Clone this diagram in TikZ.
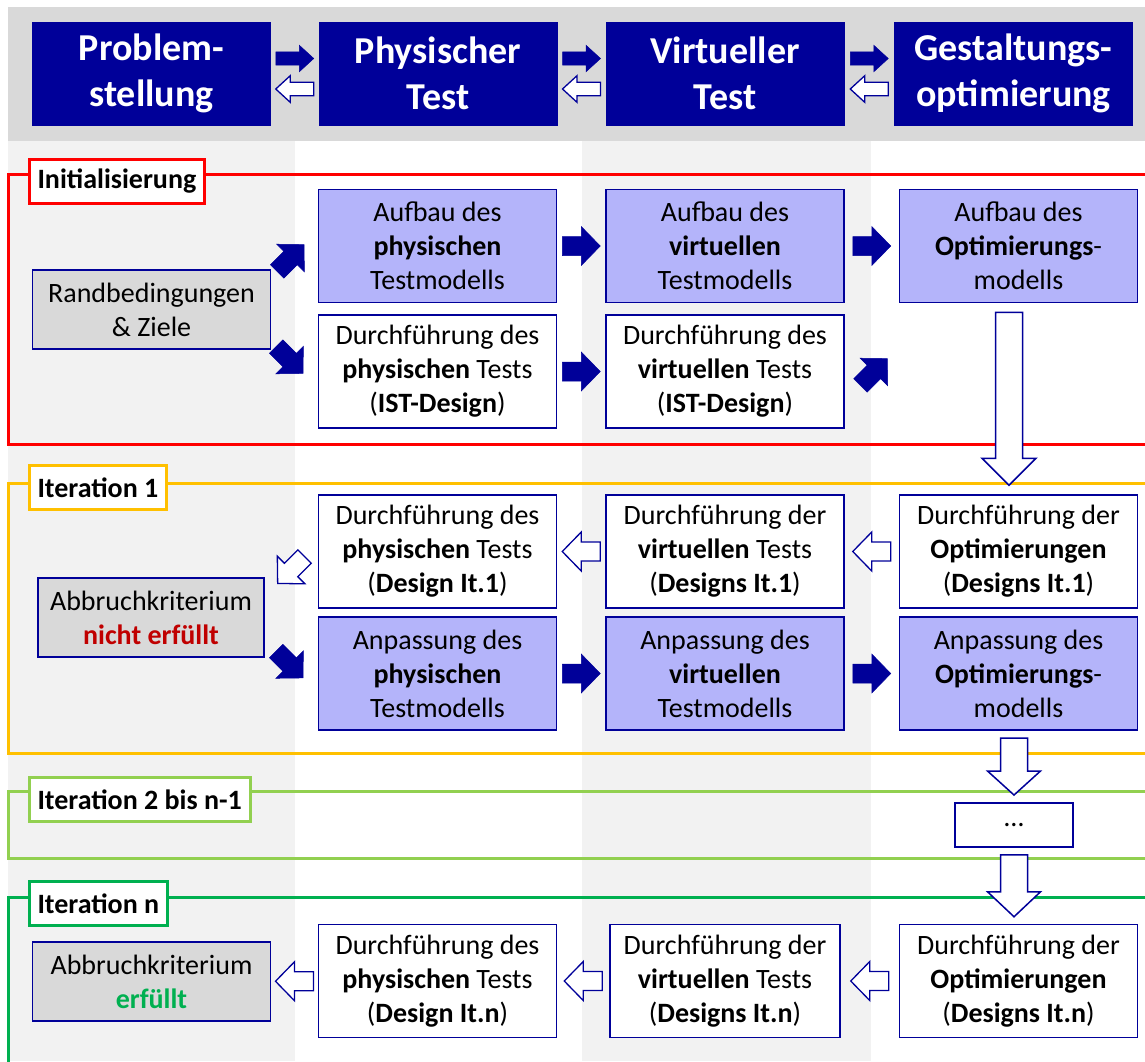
\documentclass[tikz,border=0pt]{standalone}
\usepackage{fontspec}
\setmainfont{Carlito}
\usetikzlibrary{calc}
\definecolor{navy}{HTML}{000099}
\definecolor{lightblue}{HTML}{B4B4FA}
\definecolor{boxgray}{HTML}{D9D9D9}
\definecolor{stripe}{HTML}{F2F2F2}
\definecolor{initred}{HTML}{FF0000}
\definecolor{itorange}{HTML}{FFC000}
\definecolor{itlight}{HTML}{92D050}
\definecolor{itgreen}{HTML}{00B050}
\definecolor{darkred}{HTML}{C00000}

% block arrow: style, centre, angle, length, half shaft, half head, head length
\newcommand{\blockarrow}[7]{%
  \draw[#1, shift={#2}, rotate=#3] (-#4/2,-#5) -- (#4/2-#7,-#5) -- (#4/2-#7,-#6)
    -- (#4/2,0) -- (#4/2-#7,#6) -- (#4/2-#7,#5) -- (-#4/2,#5) -- cycle;}
\newcommand{\smallarrow}[3]{\blockarrow{#1}{#2}{#3}{38}{9.5}{19.5}{19}}
\newcommand{\headarrow}[3]{\blockarrow{#1}{#2}{#3}{38}{6.7}{13.3}{14.5}}

\begin{document}
\begin{tikzpicture}[x=1pt, y=-1pt,
    hbox/.style={fill=navy, draw=navy, text=white, align=center, inner sep=0pt,
      minimum width=238pt, minimum height=103pt,
      font=\bfseries\fontsize{38}{46}\selectfont},
    box/.style={draw=navy, line width=1.8pt, fill=white, align=center, inner sep=0pt,
      minimum width=238pt, minimum height=113pt,
      font=\fontsize{28}{34}\selectfont},
    model/.style={box, fill=lightblue},
    crit/.style={box, fill=boxgray, minimum height=79pt},
    tag/.style={fill=white, line width=3pt, anchor=north west, inner xsep=8.5pt,
      inner ysep=0pt, minimum height=44pt, font=\bfseries\fontsize{28}{34}\selectfont},
    frame/.style={line width=3pt},
    solid/.style={fill=navy, draw=navy, line width=0.5pt},
    hollow/.style={fill=white, draw=navy, line width=1.3pt}]
  \useasboundingbox (0,0) rectangle (1145,1061);

  % background
  \fill[boxgray] (8,7) rectangle (1145,141);
  \fill[stripe] (8,141) rectangle (295,1061);
  \fill[stripe] (582,141) rectangle (871,1061);

  % phases
  \node[hbox] (prob) at (151.5,73.5) {Problem-\\stellung};
  \node[hbox] (physhd) at (438,73.5) {Physischer\\Test};
  \node[hbox] (virthd) at (725,73.5) {Virtueller\\Test};
  \node[hbox] (opthd) at (1013.5,73.5) {Gestaltungs-\\optimierung};
  \headarrow{solid}{($(prob.east)!0.5!(physhd.west)+(0,-15)$)}{0}
  \headarrow{hollow}{($(prob.east)!0.5!(physhd.west)+(0,15.5)$)}{180}
  \headarrow{solid}{($(physhd.east)!0.5!(virthd.west)+(0,-15)$)}{0}
  \headarrow{hollow}{($(physhd.east)!0.5!(virthd.west)+(0,15.5)$)}{180}
  \headarrow{solid}{($(virthd.east)!0.5!(opthd.west)+(0,-15)$)}{0}
  \headarrow{hollow}{($(virthd.east)!0.5!(opthd.west)+(0,15.5)$)}{180}

  % frames
  \draw[frame, initred] (1150,174) -| (8,444) -- (1150,444);
  \draw[frame, itorange] (1150,483) -| (8,753) -- (1150,753);
  \draw[frame, itlight] (1150,791) -| (8,858) -- (1150,858);
  \draw[frame, itgreen] (1150,897) -| (8,1070);
  \node[tag, draw=initred] (tinit) at (27.5,158) {Initialisierung};
  \node[tag, draw=itorange] (tit1) at (27.5,464) {Iteration 1};
  \node[tag, draw=itlight] (tit2) at (27.5,776) {Iteration 2 bis n-1};
  \node[tag, draw=itgreen] (titn) at (27.5,880) {Iteration n};

  % Initialisierung
  \node[crit] (rand) at (151.5,309.5) {Randbedingungen\\\& Ziele};
  \node[model] (aufphys) at (437.5,246) {Aufbau des\\\textbf{physischen}\\Testmodells};
  \node[box] (durchphys) at (437.5,371.5) {Durchführung des\\\textbf{physischen} Tests\\(\textbf{IST-Design})};
  \node[model] (aufvirt) at (725,246) {Aufbau des\\\textbf{virtuellen}\\Testmodells};
  \node[box] (durchvirt) at (725,371.5) {Durchführung des\\\textbf{virtuellen} Tests\\(\textbf{IST-Design})};
  \node[model] (aufopt) at (1018.5,246) {Aufbau des\\\textbf{Optimierungs}-\\modells};
  \smallarrow{solid}{($(aufphys.west)+(-27,12)$)}{45}
  \smallarrow{solid}{($(durchphys.west)+(-28,-11.5)$)}{-45}
  \smallarrow{solid}{($(aufphys.east)!0.5!(aufvirt.west)$)}{0}
  \smallarrow{solid}{($(durchphys.east)!0.5!(durchvirt.west)$)}{0}
  \smallarrow{solid}{($(aufvirt.east)!0.5!(aufopt.west)$)}{0}
  \smallarrow{solid}{($(durchvirt.east)+(29,0.5)$)}{45}

  % Iteration 1
  \node[crit, minimum width=226pt] (abbruch1) at (151,617.5) {Abbruchkriterium\\\textcolor{darkred}{\textbf{nicht erfüllt}}};
  \node[box] (durchphys1) at (437.5,551.5) {Durchführung des\\\textbf{physischen} Tests\\(\textbf{Design It.1})};
  \node[model] (anpphys) at (437.5,673.5) {Anpassung des\\\textbf{physischen}\\Testmodells};
  \node[box] (durchvirt1) at (725,551.5) {Durchführung der\\\textbf{virtuellen} Tests\\(\textbf{Designs It.1})};
  \node[model] (anpvirt) at (725,673.5) {Anpassung des\\\textbf{virtuellen}\\Testmodells};
  \node[box] (durchopt1) at (1018.5,551.5) {Durchführung der\\\textbf{Optimierungen}\\(\textbf{Designs It.1})};
  \node[model] (anpopt) at (1018.5,673.5) {Anpassung des\\\textbf{Optimierungs}-\\modells};
  \blockarrow{hollow, line width=1.5pt}{($(aufopt.south)!0.5!(durchopt1.north)+(-9.5,0)$)}{-90}{173}{13.5}{27}{27}
  \smallarrow{hollow}{($(durchvirt1.east)!0.5!(durchopt1.west)$)}{180}
  \smallarrow{hollow}{($(durchphys1.east)!0.5!(durchvirt1.west)$)}{180}
  \smallarrow{hollow}{($(durchphys1.west)+(-26.5,18.5)$)}{-135}
  \smallarrow{solid}{($(anpphys.west)+(-28,-9)$)}{-45}
  \smallarrow{solid}{($(anpphys.east)!0.5!(anpvirt.west)$)}{0}
  \smallarrow{solid}{($(anpvirt.east)!0.5!(anpopt.west)$)}{0}

  % Iteration 2 bis n-1
  \node[box, minimum width=118.5pt, minimum height=44pt] (dots) at (1014,825) {\dots};
  \blockarrow{hollow, line width=1.5pt}{($(dots.north |- anpopt.south)!0.5!(dots.north)$)}{-90}{57}{13.5}{26.5}{24}

  % Iteration n
  \node[crit] (abbruchn) at (151.5,981.5) {Abbruchkriterium\\\textcolor{itgreen}{\textbf{erfüllt}}};
  \node[box] (durchphysn) at (437.5,981) {Durchführung des\\\textbf{physischen} Tests\\(\textbf{Design It.n})};
  \node[box, minimum width=230pt] (durchvirtn) at (725,981) {Durchführung der\\\textbf{virtuellen} Tests\\(\textbf{Designs It.n})};
  \node[box] (durchoptn) at (1018.5,981) {Durchführung der\\\textbf{Optimierungen}\\(\textbf{Designs It.n})};
  \blockarrow{hollow, line width=1.5pt}{($(dots.south)!0.5!(dots.south |- durchoptn.north)$)}{-90}{62}{13.5}{26.5}{25}
  \smallarrow{hollow}{($(durchvirtn.east)!0.5!(durchoptn.west)$)}{180}
  \smallarrow{hollow}{($(durchphysn.east)!0.5!(durchvirtn.west)$)}{180}
  \smallarrow{hollow}{($(abbruchn.east)!0.5!(durchphysn.west)$)}{180}
\end{tikzpicture}
\end{document}
